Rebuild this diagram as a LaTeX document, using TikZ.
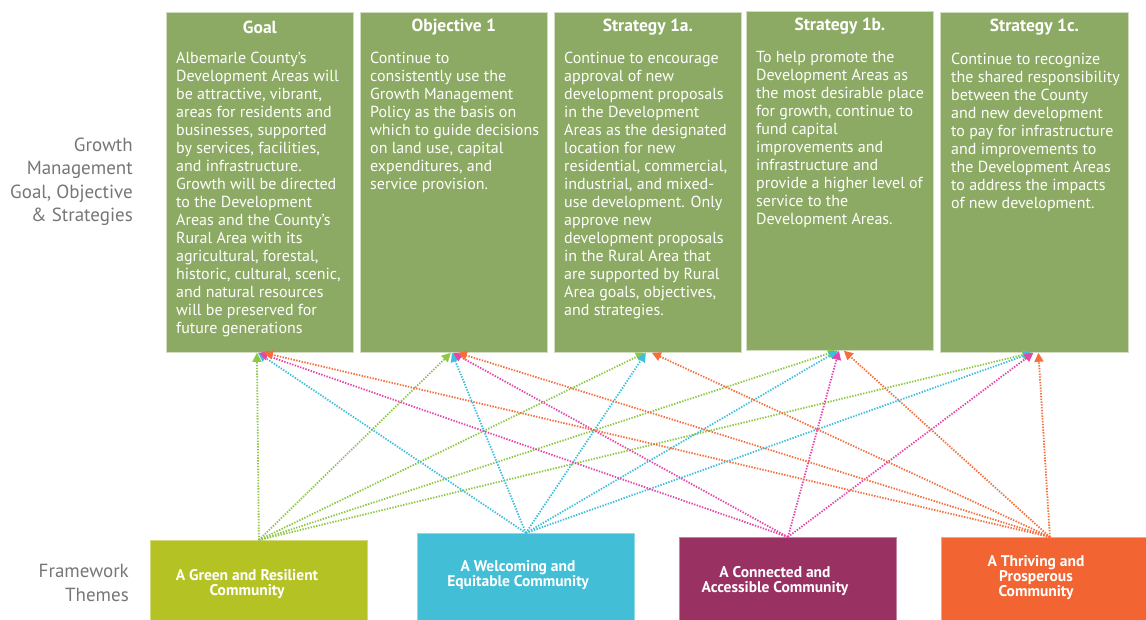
\documentclass[tikz,border=0pt]{standalone}
\usepackage{fontspec}
\setmainfont{PT Sans}
\usetikzlibrary{arrows.meta}

\definecolor{topgreen}{RGB}{141,170,100}
\definecolor{labelgray}{RGB}{118,118,118}
\definecolor{thgreen}{RGB}{180,194,36}
\definecolor{thcyan}{RGB}{66,191,214}
\definecolor{thpurple}{RGB}{153,50,99}
\definecolor{thorange}{RGB}{242,101,50}
\definecolor{lngreen}{RGB}{140,200,70}
\definecolor{lncyan}{RGB}{60,190,220}
\definecolor{lnpink}{RGB}{228,70,170}
\definecolor{lnorange}{RGB}{245,110,60}

\tikzset{
  topbox/.style={fill=topgreen, draw=topgreen!40!white, line width=0.8pt,
    anchor=north west, minimum width=187pt, minimum height=340pt, inner sep=0},
  themebox/.style={fill=#1, draw=#1!60!white, line width=0.8pt,
    anchor=north west, minimum width=217pt, minimum height=100pt, inner sep=0},
  head/.style={text=white, font=\fontsize{17.5}{18}\selectfont\bfseries},
  body/.style={text=white, anchor=north west, align=left, inner sep=0,
    font=\fontsize{16}{18}\selectfont},
  theme/.style={text=white, align=center, inner sep=0,
    font=\fontsize{15.5}{15}\selectfont\bfseries},
  side/.style={text=labelgray, anchor=east, align=right, inner sep=0,
    font=\fontsize{19}{23.5}\selectfont},
  link/.style={draw=#1, line width=1.8pt, dash pattern=on 1.4pt off 1.4pt,
    -{Triangle[length=9pt,width=9pt]}}
}

\begin{document}
\begin{tikzpicture}[x=1pt,y=-1pt]
  \useasboundingbox (0,0) rectangle (1146,620);

  % The goal, the objective and the strategies.
  \node[topbox] (goal) at (166,12) {};
  \node[topbox] (obj) at (360,12) {};
  \node[topbox] (sa) at (554,12) {};
  \node[topbox,minimum height=339pt] (sb) at (746,11) {};
  \node[topbox,minimum width=188pt] (sc) at (940,12) {};

  \path (goal.north) +(0,15) node[head] (goalhead) {Goal}
        (obj.north) +(0,15) node[head] (objhead) {Objective 1}
        (sa.north) +(0,15) node[head] (sahead) {Strategy 1a.}
        (sb.north) +(0,15) node[head] (sbhead) {Strategy 1b.}
        (sc.north) +(0,15) node[head] (schead) {Strategy 1c.};

  \path (goal.north west) +(10,40) node[body] (goaltext)
    {Albemarle County’s\\Development Areas will\\be attractive, vibrant,\\
     areas for residents and\\businesses, supported\\by services, facilities,\\
     and infrastructure.\\Growth will be directed\\to the Development\\
     Areas and the County’s\\Rural Area with its\\agricultural, forestal,\\
     historic, cultural, scenic,\\and natural resources\\will be preserved for\\
     future generations};

  \path (obj.north west) +(10,40) node[body] (objtext)
    {Continue to\\consistently use the\\Growth Management\\
     Policy as the basis on\\which to guide decisions\\on land use, capital\\
     expenditures, and\\service provision.};

  \path (sa.north west) +(10,40) node[body] (satext)
    {Continue to encourage\\approval of new\\development proposals\\
     in the Development\\Areas as the designated\\location for new\\
     residential, commercial,\\industrial, and mixed-\\use development. Only\\
     approve new\\development proposals\\in the Rural Area that\\
     are supported by Rural\\Area goals, objectives,\\and strategies.};

  \path (sb.north west) +(10,40) node[body] (sbtext)
    {To help promote the\\Development Areas as\\the most desirable place\\
     for growth, continue to\\fund capital\\improvements and\\
     infrastructure and\\provide a higher level of\\service to the\\
     Development Areas.};

  \path (sc.north west) +(11,41) node[body] (sctext)
    {Continue to recognize\\the shared responsibility\\between the County\\
     and new development\\to pay for infrastructure\\and improvements to\\
     the Development Areas\\to address the impacts\\of new development.};

  % The framework themes.
  \node[themebox=thgreen] (green) at (150,540) {};
  \node[themebox=thcyan] (cyan) at (417,533) {};
  \node[themebox=thpurple] (purple) at (679,537) {};
  \node[themebox=thorange] (orange) at (941,537) {};

  \node[theme] (greenname) at (247,584) {A Green and Resilient\\Community};
  \node[theme] (cyanname) at (518,575) {A Welcoming and\\Equitable Community};
  \node[theme] (purplename) at (775,581) {A Connected and\\Accessible Community};
  \node[theme] (orangename) at (1036,578) {A Thriving and\\Prosperous\\Community};

  % Row labels on the left.
  \node[side] (toplabel) at (133,182)
    {Growth\\Management\\Goal, Objective\\\& Strategies};
  \node[side] (themelabel) at (129,583) {Framework\\Themes};

  % Connect each theme to what it supports.
  \foreach \t in {goal,obj,sa,sb,sc}
    \draw[link=lngreen] (green.north) -- ([xshift=-3pt]\t.south);
  \foreach \t in {goal,obj,sa,sb,sc}
    \draw[link=lncyan] (cyan.north) -- ([xshift=-2pt]\t.south);
  \foreach \t in {goal,obj,sb,sc}
    \draw[link=lnpink] (purple.north) -- ([xshift=-1pt]\t.south);
  \foreach \t in {goal,obj,sa,sb,sc}
    \draw[link=lnorange] (orange.north) -- ([xshift=4pt]\t.south);

\end{tikzpicture}
\end{document}
